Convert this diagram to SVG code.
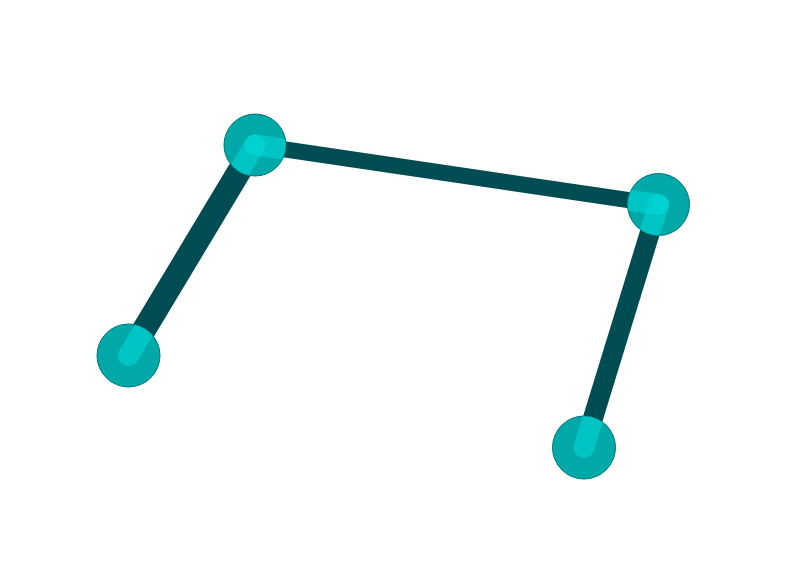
<svg xmlns="http://www.w3.org/2000/svg" width="798" height="576" viewBox="0 0 798 576">
<style>
.edge{stroke:#004c53;stroke-linecap:butt;fill:none}
.ball{fill:#00a8a8;stroke:#007478;stroke-width:1}
.hl{stroke:#00e0e0;stroke-opacity:0.5;stroke-width:21;stroke-linecap:round;fill:none}
</style>
<defs>
<clipPath id="cA"><circle cx="255" cy="145" r="31"/></clipPath>
<clipPath id="cB"><circle cx="128.5" cy="355.5" r="31.5"/></clipPath>
<clipPath id="cC"><circle cx="658.5" cy="204.5" r="31"/></clipPath>
<clipPath id="cD"><circle cx="584" cy="447.5" r="31.5"/></clipPath>
</defs>
<rect width="798" height="576" fill="#ffffff"/>
<g id="connectors">
<line class="edge" x1="255" y1="145" x2="658.5" y2="204.5" stroke-width="16"/>
<line class="edge" x1="255" y1="145" x2="128.5" y2="355.5" stroke-width="24"/>
<line class="edge" x1="658.5" y1="204.5" x2="584" y2="447.5" stroke-width="20"/>
</g>
<g id="node-a">
<circle class="ball" cx="255" cy="145" r="31"/>
<g clip-path="url(#cA)">
<line class="hl" x1="255" y1="145" x2="300" y2="151.6"/>
<line class="hl" x1="255" y1="145" x2="231.8" y2="183.6"/>
</g>
</g>
<g id="node-b">
<circle class="ball" cx="128.5" cy="355.5" r="31.5"/>
<g clip-path="url(#cB)">
<line class="hl" x1="128.5" y1="355.5" x2="151.7" y2="316.9"/>
</g>
</g>
<g id="node-c">
<circle class="ball" cx="658.5" cy="204.5" r="31"/>
<g clip-path="url(#cC)">
<line class="hl" x1="658.5" y1="204.5" x2="613.5" y2="197.9"/>
<line class="hl" x1="658.5" y1="204.5" x2="645.3" y2="247.5"/>
</g>
</g>
<g id="node-d">
<circle class="ball" cx="584" cy="447.5" r="31.5"/>
<g clip-path="url(#cD)">
<line class="hl" x1="584" y1="447.5" x2="597.2" y2="404.5"/>
</g>
</g>
</svg>
